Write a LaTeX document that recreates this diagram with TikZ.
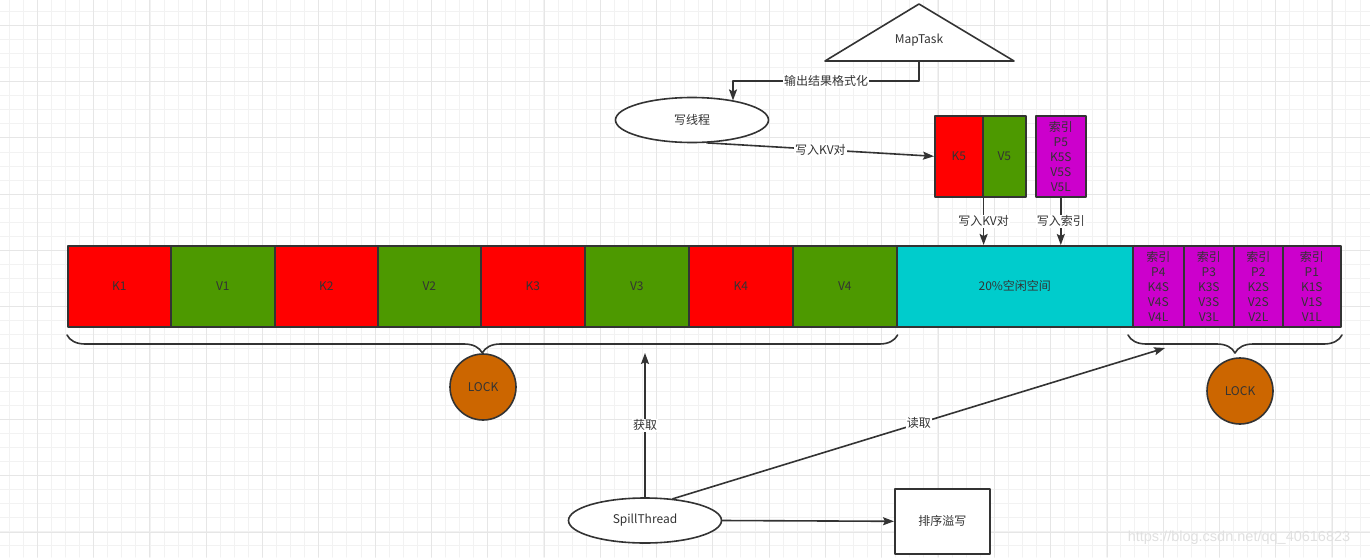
\documentclass[tikz,border=0pt]{standalone}
\usepackage{fontspec}
\setmainfont{Noto Sans CJK SC}
\newfontfamily\markfont{Liberation Sans}
\usetikzlibrary{shapes.geometric,decorations.pathreplacing,arrows.meta}

\definecolor{keyred}{HTML}{FF0000}
\definecolor{valgreen}{HTML}{4D9900}
\definecolor{freecyan}{HTML}{00CCCC}
\definecolor{idxpurple}{HTML}{CC00CC}
\definecolor{lockorange}{HTML}{CC6600}
\definecolor{inkgray}{HTML}{333333}
\definecolor{gridlight}{HTML}{F2F2F2}
\definecolor{gridmid}{HTML}{E6E6E6}

\tikzset{
  cell/.style={draw=inkgray,line width=1.6pt,anchor=north west,inner sep=0pt,
    minimum height=81pt,text=inkgray,align=center,
    font=\fontsize{12}{15}\selectfont},
  keycell/.style={cell,fill=keyred},
  valcell/.style={cell,fill=valgreen},
  idxcell/.style={cell,fill=idxpurple},
  lock/.style={circle,draw=inkgray,line width=1.6pt,fill=lockorange,
    minimum size=66pt,inner sep=0pt,text=inkgray},
  thread/.style={ellipse,draw=inkgray,line width=1.6pt,fill=white,
    minimum width=153pt,minimum height=45pt,text=inkgray},
  flow/.style={draw=inkgray,line width=1.6pt,
    -{Stealth[length=11pt,width=8pt,inset=2pt]}},
  lbl/.style={fill=white,inner sep=1pt,text=inkgray},
  bracket/.style={draw=inkgray,line width=1.6pt,decorate,
    decoration={brace,mirror,amplitude=18pt,aspect=0.5}},
}

\begin{document}
\begin{tikzpicture}[x=1pt,y=-1pt,line cap=round,line join=round,
  font=\fontsize{12}{14}\selectfont]
  \useasboundingbox[fill=white] (0,0) rectangle (1370,557);
  \foreach \i in {0,...,97} \draw[gridlight,line width=1pt] ({9.3+14.07*\i},0) -- ({9.3+14.07*\i},557);
  \foreach \j in {0,...,39} \draw[gridlight,line width=1pt] (0,{11.3+14.07*\j}) -- (1370,{11.3+14.07*\j});
  \foreach \i in {0,...,24} \draw[gridmid,line width=1pt] ({37.3+56.3*\i},0) -- ({37.3+56.3*\i},557);
  \foreach \j in {0,...,9} \draw[gridmid,line width=1pt] (0,{25.3+56.3*\j}) -- (1370,{25.3+56.3*\j});

  \draw[draw=inkgray,line width=1.6pt,fill=white] (825,61) -- (919,4) -- (1014,61) -- cycle;
  \node[text=inkgray] (maptask) at (919,40) {MapTask};
  \coordinate (mapbase) at (919,61);
  \coordinate (wbend) at (733,81);

  \node[thread] (writer) at (692,120) {写线程};

  \node[keycell,minimum width=48pt] (k5) at (934,115) {K5};
  \node[valcell,minimum width=43pt] (v5) at (982,115) {V5};
  \node[idxcell,minimum width=50pt] (p5) at (1035,115) {索引\\P5\\K5S\\V5S\\V5L};

  \node[keycell,minimum width=103pt] (k1) at (67,245) {K1};
  \node[valcell,minimum width=104pt] (v1) at (170,245) {V1};
  \node[keycell,minimum width=103pt] (k2) at (274,245) {K2};
  \node[valcell,minimum width=103pt] (v2) at (377,245) {V2};
  \node[keycell,minimum width=104pt] (k3) at (480,245) {K3};
  \node[valcell,minimum width=104pt] (v3) at (584,245) {V3};
  \node[keycell,minimum width=104pt] (k4) at (688,245) {K4};
  \node[valcell,minimum width=104pt] (v4) at (792,245) {V4};
  \node[cell,fill=freecyan,minimum width=236pt] (free) at (896,245) {20\%空闲空间};
  \node[idxcell,minimum width=51pt] (i4) at (1132,245) {索引\\P4\\K4S\\V4S\\V4L};
  \node[idxcell,minimum width=50pt] (i3) at (1183,245) {索引\\P3\\K3S\\V3S\\V3L};
  \node[idxcell,minimum width=49pt] (i2) at (1233,245) {索引\\P2\\K2S\\V2S\\V2L};
  \node[idxcell,minimum width=58pt] (i1) at (1282,245) {索引\\P1\\K1S\\V1S\\V1L};

  \draw[bracket] (k1.south west |- 0,335) -- (v4.south east |- 0,335);
  \draw[bracket] (1128,335) -- (1342,335);
  \node[lock] (lockkv) at (483,387) {LOCK};
  \node[lock] (lockidx) at (1240,391) {LOCK};

  \node[thread] (spill) at (645,520.5) {SpillThread};
  \node[draw=inkgray,line width=1.6pt,fill=white,anchor=north west,
    minimum width=95pt,minimum height=65pt,text=inkgray] (sortbox) at (894,488) {排序溢写};
  \coordinate (gettip) at (645,353);
  \coordinate (readtip) at (1165,348);

  \draw[flow] (mapbase) |- node[lbl,pos=0.75] {输出结果格式化} (wbend) -- (wbend |- writer.25);
  \draw[flow] (writer.-57) -- node[lbl] {写入KV对} (k5.west);
  \draw[flow] (k5.south east) -- node[lbl] {写入KV对} (k5.south east |- free.north);
  \draw[flow] (p5.south) -- node[lbl] {写入索引} (p5.south |- free.north);
  \draw[flow] (spill.north) -- node[lbl] {获取} (gettip);
  \draw[flow] (spill.38) -- node[lbl] {读取} (readtip);
  \draw[flow] (spill.east) -- (sortbox.west);

  \node[text=black!12,font=\markfont\fontsize{14.5}{16}\selectfont] (mark) at (1239,538) {https://blog.csdn.net/qq\_40616823};
\end{tikzpicture}
\end{document}
